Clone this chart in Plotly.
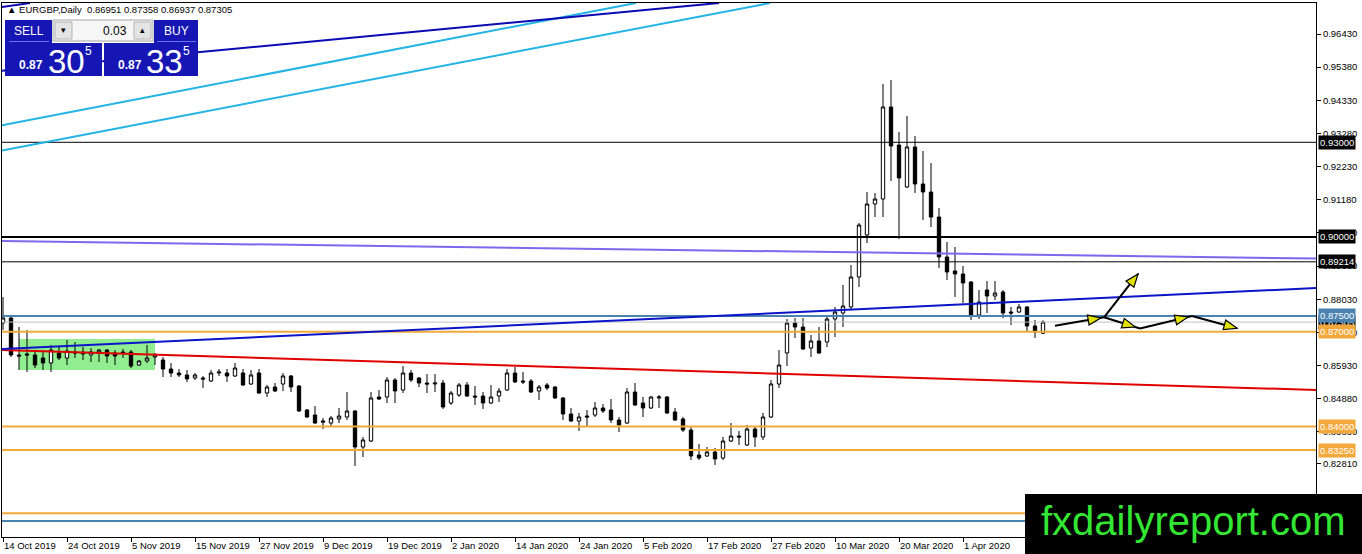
import math
import pandas as pd
import plotly.graph_objects as go

# ---------------- data ----------------
symbol = "EURGBP,Daily"
broker_holidays = ["2019-12-25", "2020-01-01"]
bar_dates = [d for d in pd.bdate_range("2019-10-14", "2020-04-15")
             if d.strftime("%Y-%m-%d") not in broker_holidays]

opens = [0.87276, 0.87434, 0.86262, 0.86294, 0.86262, 0.86167, 0.86009, 0.86325, 0.86167, 0.86357,
         0.86357, 0.86262, 0.86357, 0.86420, 0.86325, 0.86357, 0.86357, 0.85945, 0.86072, 0.86199,
         0.86104, 0.85819, 0.85692, 0.85629, 0.85533, 0.85533, 0.85438, 0.85692, 0.85692, 0.85597,
         0.85692, 0.85343, 0.85692, 0.85058, 0.85248, 0.85343, 0.85597, 0.85280, 0.84520, 0.84361,
         0.84171, 0.84108, 0.84235, 0.84298, 0.84488, 0.83348, 0.83538, 0.84932, 0.84932, 0.85470,
         0.85153, 0.85692, 0.85533, 0.85375, 0.85343, 0.85375, 0.84742, 0.84995, 0.85312, 0.84963,
         0.84963, 0.84742, 0.84963, 0.85153, 0.85692, 0.85438, 0.85438, 0.85122, 0.85312, 0.85248,
         0.84900, 0.84393, 0.84171, 0.84330, 0.84361, 0.84583, 0.84520, 0.84203, 0.84108, 0.85090,
         0.84742, 0.84583, 0.84900, 0.84932, 0.84457, 0.84235, 0.83886, 0.83094, 0.83063, 0.83189,
         0.82999, 0.83538, 0.83696, 0.83411, 0.83918, 0.83665, 0.84298, 0.85343, 0.86325, 0.87276,
         0.87149, 0.86484, 0.86706, 0.86674, 0.87402, 0.87592, 0.87783, 0.88733, 0.90063, 0.91045,
         0.91204, 0.94118, 0.92914, 0.91584, 0.92851, 0.91679, 0.91425, 0.90633, 0.89366, 0.88923,
         0.88828, 0.88574, 0.87529, 0.88321, 0.88131, 0.88258, 0.87624, 0.87624, 0.87783, 0.87181,
         0.86951]
highs = [0.88099, 0.87497, 0.87149, 0.87054, 0.86420, 0.86420, 0.86579, 0.86515, 0.86737, 0.86674,
         0.86515, 0.86484, 0.86452, 0.86452, 0.86420, 0.86452, 0.86420, 0.86104, 0.86579, 0.86325,
         0.86199, 0.86009, 0.85819, 0.85787, 0.85692, 0.85597, 0.85787, 0.85819, 0.85819, 0.86009,
         0.85819, 0.85787, 0.85819, 0.85312, 0.85375, 0.85692, 0.85629, 0.85312, 0.84552, 0.84647,
         0.84266, 0.84330, 0.84583, 0.85090, 0.84520, 0.83665, 0.85090, 0.85153, 0.85565, 0.85533,
         0.85914, 0.85787, 0.85565, 0.85660, 0.85660, 0.85470, 0.85122, 0.85375, 0.85407, 0.85280,
         0.85090, 0.85312, 0.85217, 0.85819, 0.85882, 0.85724, 0.85502, 0.85312, 0.85375, 0.85280,
         0.84932, 0.84583, 0.84425, 0.84520, 0.84773, 0.84710, 0.84868, 0.84298, 0.85217, 0.85375,
         0.84932, 0.84963, 0.84995, 0.84963, 0.84583, 0.84298, 0.83981, 0.83443, 0.83348, 0.83316,
         0.83665, 0.84108, 0.83855, 0.84045, 0.83981, 0.84425, 0.85470, 0.86420, 0.87402, 0.87434,
         0.87434, 0.86896, 0.87149, 0.87529, 0.87783, 0.88479, 0.89113, 0.90443, 0.91425, 0.91394,
         0.94846, 0.94973, 0.93326, 0.93833, 0.93199, 0.92724, 0.92344, 0.90918, 0.89841, 0.89683,
         0.89081, 0.88606, 0.88321, 0.88606, 0.88606, 0.88321, 0.87783, 0.87878, 0.87814, 0.87371,
         0.87358]
lows = [0.87054, 0.86199, 0.85787, 0.85724, 0.85850, 0.85787, 0.85724, 0.86104, 0.85945, 0.86167,
        0.86104, 0.86040, 0.86040, 0.86009, 0.85945, 0.86167, 0.85850, 0.85914, 0.86009, 0.85945,
        0.85565, 0.85565, 0.85565, 0.85407, 0.85470, 0.85217, 0.85407, 0.85597, 0.85407, 0.85565,
        0.85280, 0.85312, 0.85027, 0.84932, 0.85090, 0.85122, 0.85090, 0.84457, 0.84266, 0.84076,
        0.83918, 0.83981, 0.84108, 0.84203, 0.82746, 0.83031, 0.83506, 0.84837, 0.84742, 0.84742,
        0.85058, 0.85407, 0.85248, 0.85058, 0.85090, 0.84552, 0.84678, 0.84932, 0.84932, 0.84678,
        0.84552, 0.84710, 0.84773, 0.85122, 0.85375, 0.85343, 0.85058, 0.84837, 0.85153, 0.84868,
        0.84203, 0.84140, 0.83855, 0.84013, 0.84298, 0.84425, 0.84108, 0.83823, 0.84076, 0.84647,
        0.84298, 0.84552, 0.84583, 0.84393, 0.84171, 0.83823, 0.82936, 0.82936, 0.83031, 0.82778,
        0.82936, 0.83506, 0.83411, 0.83380, 0.83348, 0.83570, 0.84266, 0.85217, 0.85914, 0.86801,
        0.86420, 0.86199, 0.86294, 0.86515, 0.86832, 0.87149, 0.87719, 0.88416, 0.89810, 0.90633,
        0.90633, 0.91774, 0.89936, 0.91552, 0.91394, 0.90538, 0.90317, 0.89018, 0.88638, 0.88099,
        0.87909, 0.87371, 0.87402, 0.87592, 0.88004, 0.87434, 0.87212, 0.87592, 0.87022, 0.86801,
        0.86937]
closes = [0.87434, 0.86262, 0.86230, 0.86262, 0.85945, 0.86009, 0.86420, 0.86167, 0.86389, 0.86325,
          0.86294, 0.86357, 0.86420, 0.86230, 0.86230, 0.86325, 0.85914, 0.86072, 0.86167, 0.86262,
          0.85819, 0.85692, 0.85629, 0.85502, 0.85629, 0.85502, 0.85692, 0.85724, 0.85597, 0.85850,
          0.85312, 0.85629, 0.85058, 0.85248, 0.85122, 0.85597, 0.85248, 0.84488, 0.84298, 0.84108,
          0.84140, 0.84266, 0.84330, 0.84488, 0.83348, 0.83570, 0.84900, 0.84868, 0.85470, 0.85122,
          0.85692, 0.85470, 0.85375, 0.85343, 0.85375, 0.84615, 0.85058, 0.85312, 0.84963, 0.84932,
          0.84742, 0.84932, 0.85122, 0.85692, 0.85407, 0.85407, 0.85090, 0.85248, 0.85217, 0.84900,
          0.84393, 0.84171, 0.84298, 0.84298, 0.84583, 0.84488, 0.84203, 0.84045, 0.85090, 0.84678,
          0.84583, 0.84932, 0.84932, 0.84425, 0.84203, 0.83886, 0.83063, 0.82999, 0.83189, 0.82968,
          0.83538, 0.83696, 0.83665, 0.83918, 0.83665, 0.84298, 0.85343, 0.85945, 0.87276, 0.87149,
          0.86452, 0.86706, 0.86325, 0.87402, 0.87624, 0.87814, 0.88733, 0.90380, 0.91045, 0.91204,
          0.94118, 0.92882, 0.91869, 0.92851, 0.91679, 0.91425, 0.90633, 0.89366, 0.88891, 0.88828,
          0.88543, 0.87529, 0.87941, 0.88131, 0.88226, 0.87592, 0.87592, 0.87783, 0.87181, 0.86991,
          0.87305]

n_bars = len(opens)
bar_index = list(range(n_bars))

date_tick_step = 8
date_tick_index = list(range(0, n_bars, date_tick_step))
date_tick_text = [bar_dates[i].strftime("%-d %b %Y") for i in date_tick_index]

price_tick_values = [0.96430, 0.95380, 0.94330, 0.93280, 0.92230, 0.91180, 0.90130, 0.89080,
                     0.88030, 0.86980, 0.85930, 0.84880, 0.83830, 0.82810, 0.81760]

level_prices = [0.93000, 0.90000, 0.89214, 0.87500, 0.87000, 0.84000, 0.83250, 0.81250, 0.81000]
bid_price = closes[-1]
ask_price = 0.87335
lot_size = "0.03"

# drawn trend lines: (bar index, price) end points
trend_red = [(-0.125, 0.86420), (164.125, 0.85153)]
trend_blue = [(-0.125, 0.86452), (164.125, 0.88384)]
trend_purple = [(-0.125, 0.89873), (164.125, 0.89319)]
trend_cyan_a = [(-0.125, 0.93541), (79.125, 0.97412)]
trend_cyan_b = [(-0.125, 0.92743), (95.875, 0.97412)]
trend_navy = [(-0.375, 0.95258), (89.5, 0.97412)]
trend_navy_short = [(-0.125, 0.97285), (3.375, 0.97412)]

# projection arrows (bar index, price)
arrow_path = [(131.5, 0.87190), (137.625, 0.87456), (142.125, 0.87101), (148.625, 0.87497), (154.25, 0.87108)]
arrow_branch = [(137.625, 0.87456), (141.875, 0.88828)]

# green consolidation box
range_box = [(2.0, 0.85787), (19.0, 0.86769)]

watermark = "fxdailyreport.com"

# ---------------- geometry / styles ----------------
W, H = 1362, 554
ML, MR, MT, MB = 2, 46, 3, 17
PW, PH = W - ML - MR, H - MT - MB
X_RANGE = [-0.125, 164.125]
Y_RANGE = [0.80497, 0.97412]
FONT = "Liberation Sans, Arial, sans-serif"

ORANGE = "#F2A83A"
STEEL = "#4A82B0"

level_styles = [("#000000", 1), ("#000000", 2), ("#000000", 1), (STEEL, 2), (ORANGE, 2),
                (ORANGE, 2), (ORANGE, 2), (ORANGE, 2), (STEEL, 2)]


def pxx(px):
    return (px - ML) / PW


def pxy(py):
    return (H - MB - py) / PH


sx = PW / (X_RANGE[1] - X_RANGE[0])
sy = PH / (Y_RANGE[1] - Y_RANGE[0])

fig = go.Figure()
fig.add_trace(go.Candlestick(
    x=bar_index, open=opens, high=highs, low=lows, close=closes,
    increasing=dict(line=dict(color="#000000", width=1), fillcolor="#FFFFFF"),
    decreasing=dict(line=dict(color="#000000", width=1), fillcolor="#000000"),
    whiskerwidth=0, showlegend=False, hoverinfo="skip",
))

shapes = []
# background rectangle
shapes.append(dict(type="rect", xref="x", yref="y", x0=range_box[0][0], x1=range_box[1][0],
                   y0=range_box[0][1], y1=range_box[1][1], fillcolor="#90EE90",
                   line=dict(width=0), layer="below"))

# bid line
shapes.append(dict(type="line", xref="paper", yref="y", x0=0, x1=1, y0=bid_price, y1=bid_price,
                   line=dict(color="#C0C0C0", width=1), layer="above"))
for p, (c, w) in zip(level_prices, level_styles):
    shapes.append(dict(type="line", xref="paper", yref="y", x0=0, x1=1, y0=p, y1=p,
                       line=dict(color=c, width=w), layer="above"))

for pts, col in [(trend_red, "#E00000"), (trend_blue, "#0A14C8"), (trend_purple, "#7B68EE"),
                 (trend_cyan_a, "#22B4E4"), (trend_cyan_b, "#22B4E4"), (trend_navy, "#0A0AB4"),
                 (trend_navy_short, "#0A0AB4")]:
    shapes.append(dict(type="line", xref="x", yref="y", x0=pts[0][0], y0=pts[0][1],
                       x1=pts[1][0], y1=pts[1][1], line=dict(color=col, width=2), layer="above"))

# arrows
for seg in list(zip(arrow_path[:-1], arrow_path[1:])) + [tuple(arrow_branch)]:
    shapes.append(dict(type="line", xref="x", yref="y", x0=seg[0][0], y0=seg[0][1],
                       x1=seg[1][0], y1=seg[1][1], line=dict(color="#000000", width=2), layer="above"))


def arrow_head(p_from, p_to, back=0.0, length=13.0, half=5.0):
    dx = (p_to[0] - p_from[0]) * sx
    dy = (p_to[1] - p_from[1]) * sy
    L = math.hypot(dx, dy)
    ux, uy = dx / L, dy / L
    tx, ty = p_to[0] * sx - back * ux, p_to[1] * sy - back * uy
    bx, by = tx - length * ux, ty - length * uy
    pts = [(tx, ty), (bx - half * uy, by + half * ux), (bx + half * uy, by - half * ux)]
    path = "M " + " L ".join(f"{x / sx:.5f},{y / sy:.6f}" for x, y in pts) + " Z"
    return dict(type="path", xref="x", yref="y", path=path, fillcolor="#E2E200",
                line=dict(color="#000000", width=1.2), layer="above")


shapes.append(arrow_head(arrow_path[0], arrow_path[1], back=3))
shapes.append(arrow_head(arrow_branch[0], arrow_branch[1], back=0))
shapes.append(arrow_head(arrow_path[1], arrow_path[2], back=5))
shapes.append(arrow_head(arrow_path[2], arrow_path[3], back=4))
shapes.append(arrow_head(arrow_path[3], arrow_path[4], back=0))

# watermark box
shapes.append(dict(type="rect", xref="paper", yref="paper", x0=pxx(1025), x1=pxx(1365),
                   y0=pxy(557), y1=pxy(494), fillcolor="#000000", line=dict(width=0), layer="above"))

# trade panel
BLUE = "#1616B4"


def prect(x0, y0, x1, y1, fill, line=None):
    return dict(type="rect", xref="paper", yref="paper", x0=pxx(x0), x1=pxx(x1), y0=pxy(y1), y1=pxy(y0),
                fillcolor=fill, line=dict(color=line or fill, width=1 if line else 0), layer="above")


shapes += [
    prect(5, 20, 52, 43, BLUE),
    prect(53, 20, 153, 41, "#F6F6F6", "#A8A8A8"),
    prect(55, 22, 72, 39, "#E4E4E4", "#B4B4B4"),
    prect(134, 22, 151, 39, "#E4E4E4", "#B4B4B4"),
    prect(154, 20, 198, 43, BLUE),
    prect(5, 43, 102, 76, BLUE),
    prect(104, 43, 198, 76, BLUE),
]
for x0, x1 in [(9, 49), (157, 196)]:
    shapes.append(dict(type="line", xref="paper", yref="paper", x0=pxx(x0), x1=pxx(x1),
                       y0=pxy(41.5), y1=pxy(41.5), line=dict(color="#7070E8", width=1), layer="above"))

ann = []


def ptext(x, y, text, size, color="#FFFFFF", xanchor="center", yanchor="middle", bold=False):
    t = f"<b>{text}</b>" if bold else text
    ann.append(dict(xref="paper", yref="paper", x=pxx(x), y=pxy(y), text=t, showarrow=False,
                    xanchor=xanchor, yanchor=yanchor, font=dict(family=FONT, size=size, color=color)))


# header
ptext(5, 9, f"▲ {symbol}  {opens[-1]:.5f} {highs[-1]:.5f} {lows[-1]:.5f} {closes[-1]:.5f}",
      9.5, "#000000", xanchor="left")

bid_s = f"{bid_price:.5f}"
ask_s = f"{ask_price:.5f}"
ptext(28.5, 31.5, "SELL", 12)
ptext(176, 31.5, "BUY", 12)
ptext(63.5, 30.5, "▾", 9, "#000000")
ptext(142.5, 30.5, "▴", 9, "#000000")
ptext(129, 31, lot_size, 12, "#000000", xanchor="right")
ptext(31, 65, bid_s[:4], 12, bold=True)
ptext(66, 61, bid_s[4:6], 33)
ptext(88, 51, bid_s[6], 12)
ptext(130, 65, ask_s[:4], 12, bold=True)
ptext(164, 61, ask_s[4:6], 33)
ptext(186, 51, ask_s[6], 12)

# watermark text
ptext(1193, 521, watermark, 40, "#33E633")

# price labels on axis
label_levels = [(bid_price, "#000000"), (0.93000, "#000000"), (0.90000, "#000000"),
                (0.89214, "#000000"), (0.87500, STEEL), (0.87000, ORANGE),
                (0.84000, ORANGE), (0.83250, ORANGE)]
for p, bg in label_levels:
    ann.append(dict(xref="paper", yref="y", x=1, y=p, text=f"{p:.5f}", showarrow=False,
                    xanchor="left", yanchor="middle", xshift=2, bgcolor=bg, borderpad=1,
                    font=dict(family=FONT, size=9.5, color="#FFFFFF")))

fig.update_layout(
    width=W, height=H,
    margin=dict(l=ML, r=MR, t=MT, b=MB, pad=0),
    paper_bgcolor="#FFFFFF", plot_bgcolor="#FFFFFF",
    showlegend=False, hovermode=False, boxgap=0.4,
    shapes=shapes, annotations=ann,
    font=dict(family=FONT, size=9.5, color="#000000"),
    xaxis=dict(type="linear", range=X_RANGE, rangeslider=dict(visible=False),
               showgrid=False, zeroline=False, showline=True, mirror=True,
               linecolor="#000000", linewidth=1, ticks="outside", ticklen=4, tickcolor="#000000",
               tickvals=date_tick_index, ticktext=date_tick_text, ticklabelposition="outside right",
               tickfont=dict(family=FONT, size=9.5, color="#000000"), automargin=False),
    yaxis=dict(range=Y_RANGE, side="right", showgrid=False, zeroline=False, showline=True,
               mirror=True, linecolor="#000000", linewidth=1, ticks="outside", ticklen=4,
               tickcolor="#000000", tickvals=price_tick_values,
               ticktext=[f"{v:.5f}" for v in price_tick_values],
               tickfont=dict(family=FONT, size=9.5, color="#000000"), automargin=False),
)

fig.write_html("out.html", config={"displayModeBar": False},
               post_script="document.body.style.margin='0px';document.body.style.overflow='hidden';")
